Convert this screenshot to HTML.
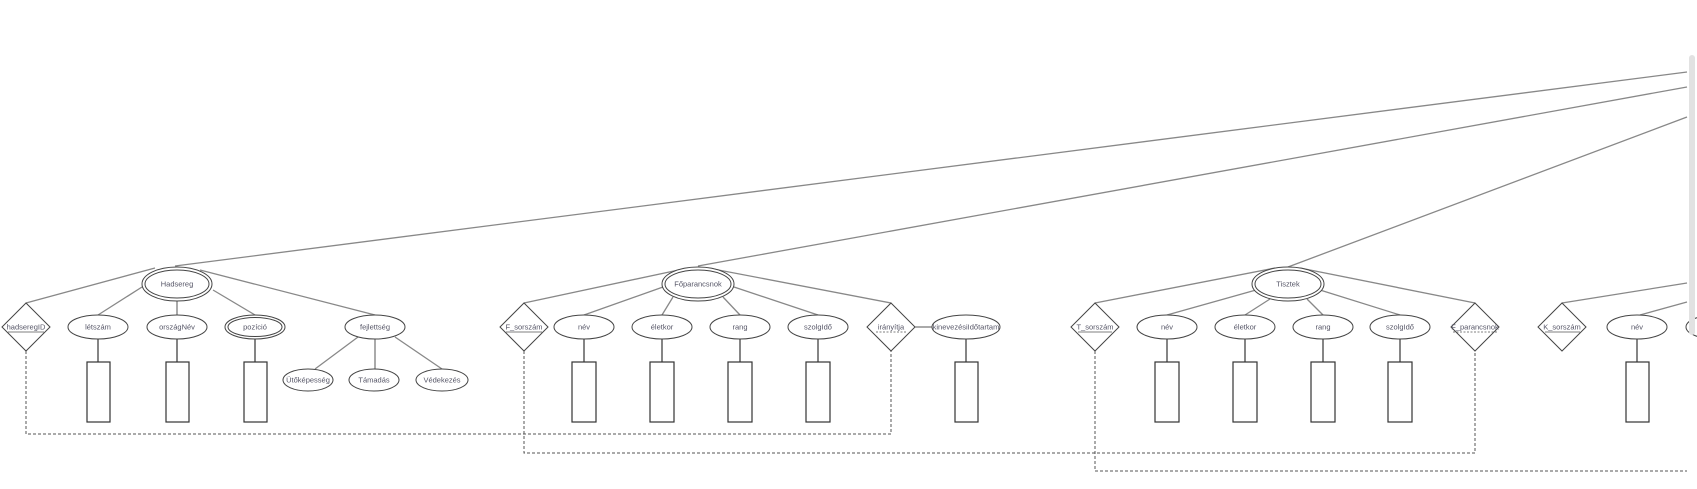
<!DOCTYPE html>
<html><head><meta charset="utf-8"><style>
html,body{margin:0;padding:0;background:#fff;width:1697px;height:489px;overflow:hidden}
svg text{font-family:"Liberation Sans",sans-serif;font-size:7.5px;fill:#556;text-anchor:middle;dominant-baseline:central}
</style></head><body>
<svg width="1697" height="489" viewBox="0 0 1697 489" xmlns="http://www.w3.org/2000/svg">
<g stroke="#888" stroke-width="1.3" fill="none">
<line x1="175" y1="266" x2="1687" y2="72"/>
<line x1="698" y1="266" x2="1687" y2="87"/>
<line x1="1288" y1="267" x2="1687" y2="117"/>
<line x1="1687" y1="283" x2="1562" y2="303"/>
<line x1="1687" y1="302" x2="1640" y2="315"/>
<!-- Hadsereg -->
<line x1="155" y1="268" x2="26" y2="303"/>
<line x1="142" y1="287" x2="98" y2="315"/>
<line x1="213" y1="290" x2="255" y2="315"/>
<line x1="200" y1="270" x2="375" y2="315"/>
<line x1="358" y1="337" x2="315" y2="369"/>
<line x1="395" y1="337" x2="442" y2="369"/>
<!-- Főparancsnok -->
<line x1="688" y1="268" x2="524" y2="303"/>
<line x1="663" y1="287" x2="584" y2="315"/>
<line x1="673" y1="297" x2="662" y2="315"/>
<line x1="723" y1="297" x2="740" y2="315"/>
<line x1="734" y1="287" x2="818" y2="315"/>
<line x1="708" y1="268" x2="891" y2="303"/>
<!-- Tisztek -->
<line x1="1275" y1="268" x2="1095" y2="303"/>
<line x1="1256" y1="290" x2="1167" y2="315"/>
<line x1="1270" y1="299" x2="1245" y2="315"/>
<line x1="1307" y1="299" x2="1323" y2="315"/>
<line x1="1320" y1="290" x2="1400" y2="315"/>
<line x1="1300" y1="268" x2="1475" y2="303"/>
</g>
<g stroke="#555" stroke-width="1" fill="none">
<line x1="177" y1="301" x2="177" y2="315"/>
<line x1="375" y1="339" x2="375" y2="369"/>
<line x1="915" y1="327" x2="932" y2="327"/>
</g>
<g stroke="#333" stroke-width="1.2" fill="#fff">
<line x1="98" y1="339" x2="98" y2="362"/><rect x="87" y="362" width="23" height="60"/>
<line x1="177" y1="339" x2="177" y2="362"/><rect x="166" y="362" width="23" height="60"/>
<line x1="255" y1="339" x2="255" y2="362"/><rect x="244" y="362" width="23" height="60"/>
<line x1="584" y1="339" x2="584" y2="362"/><rect x="572" y="362" width="24" height="60"/>
<line x1="662" y1="339" x2="662" y2="362"/><rect x="650" y="362" width="24" height="60"/>
<line x1="740" y1="339" x2="740" y2="362"/><rect x="728" y="362" width="24" height="60"/>
<line x1="818" y1="339" x2="818" y2="362"/><rect x="806" y="362" width="24" height="60"/>
<line x1="966" y1="339" x2="966" y2="362"/><rect x="955" y="362" width="23" height="60"/>
<line x1="1167" y1="339" x2="1167" y2="362"/><rect x="1155" y="362" width="24" height="60"/>
<line x1="1245" y1="339" x2="1245" y2="362"/><rect x="1233" y="362" width="24" height="60"/>
<line x1="1323" y1="339" x2="1323" y2="362"/><rect x="1311" y="362" width="24" height="60"/>
<line x1="1400" y1="339" x2="1400" y2="362"/><rect x="1388" y="362" width="24" height="60"/>
<line x1="1637" y1="339" x2="1637" y2="362"/><rect x="1626" y="362" width="23" height="60"/>
</g>
<g stroke="#555" stroke-width="1" fill="none" stroke-dasharray="3,2">
<polyline points="26,351 26,434 891,434 891,351"/>
<polyline points="524,351 524,453 1475,453 1475,351"/>
<polyline points="1095,351 1095,471 1687,471"/>
</g>
<g stroke="#444" stroke-width="1" fill="#fff">
<ellipse cx="177" cy="284" rx="35" ry="17"/><ellipse cx="177" cy="284" rx="32" ry="14"/>
<ellipse cx="698" cy="284" rx="36" ry="17"/><ellipse cx="698" cy="284" rx="33" ry="14"/>
<ellipse cx="1288" cy="284" rx="36" ry="17"/><ellipse cx="1288" cy="284" rx="33" ry="14"/>
<polygon points="26,303 50,327 26,351 2,327"/>
<polygon points="524,303 548,327 524,351 500,327"/>
<polygon points="891,303 915,327 891,351 867,327"/>
<polygon points="1095,303 1119,327 1095,351 1071,327"/>
<polygon points="1475,303 1499,327 1475,351 1451,327"/>
<polygon points="1562,303 1586,327 1562,351 1538,327"/>
<ellipse cx="98" cy="327" rx="30" ry="12"/>
<ellipse cx="177" cy="327" rx="30" ry="12"/>
<ellipse cx="255" cy="327" rx="30" ry="12"/><ellipse cx="255" cy="327" rx="27" ry="9.5"/>
<ellipse cx="375" cy="327" rx="30" ry="12"/>
<ellipse cx="308" cy="380" rx="25" ry="11"/>
<ellipse cx="374" cy="380" rx="25" ry="11"/>
<ellipse cx="442" cy="380" rx="26" ry="11"/>
<ellipse cx="584" cy="327" rx="30" ry="12"/>
<ellipse cx="662" cy="327" rx="30" ry="12"/>
<ellipse cx="740" cy="327" rx="30" ry="12"/>
<ellipse cx="818" cy="327" rx="30" ry="12"/>
<ellipse cx="966" cy="327" rx="34" ry="12"/>
<ellipse cx="1167" cy="327" rx="30" ry="12"/>
<ellipse cx="1245" cy="327" rx="30" ry="12"/>
<ellipse cx="1323" cy="327" rx="30" ry="12"/>
<ellipse cx="1400" cy="327" rx="30" ry="12"/>
<ellipse cx="1637" cy="327" rx="30" ry="12"/>
<ellipse cx="1716" cy="327" rx="30" ry="12"/>
</g>
<g stroke="#555" stroke-width="0.8">
<line x1="8" y1="332" x2="44" y2="332"/>
<line x1="506" y1="332" x2="542" y2="332"/>
<line x1="1078" y1="332" x2="1112" y2="332"/>
<line x1="1545" y1="332" x2="1580" y2="332"/>
<line x1="876" y1="332" x2="906" y2="332" stroke-dasharray="2,1.5"/>
<line x1="1453" y1="332" x2="1497" y2="332" stroke-dasharray="2,1.5"/>
</g>
<text x="177" y="284">Hadsereg</text>
<text x="698" y="284">Főparancsnok</text>
<text x="1288" y="284">Tisztek</text>
<text x="26" y="327">hadseregID</text>
<text x="98" y="327">létszám</text>
<text x="177" y="327">országNév</text>
<text x="255" y="327">pozíció</text>
<text x="375" y="327">fejlettség</text>
<text x="308" y="380">Ütőképesség</text>
<text x="374" y="380">Támadás</text>
<text x="442" y="380">Védekezés</text>
<text x="524" y="327">F_sorszám</text>
<text x="584" y="327">név</text>
<text x="662" y="327">életkor</text>
<text x="740" y="327">rang</text>
<text x="818" y="327">szolgIdő</text>
<text x="891" y="327">irányítja</text>
<text x="966" y="327">kinevezésiIdőtartam</text>
<text x="1095" y="327">T_sorszám</text>
<text x="1167" y="327">név</text>
<text x="1245" y="327">életkor</text>
<text x="1323" y="327">rang</text>
<text x="1400" y="327">szolgIdő</text>
<text x="1475" y="327">F_parancsnok</text>
<text x="1562" y="327">K_sorszám</text>
<text x="1637" y="327">név</text>
<rect x="1689" y="55" width="6" height="280" rx="3" fill="#e2e2e2"/>
</svg>
</body></html>
